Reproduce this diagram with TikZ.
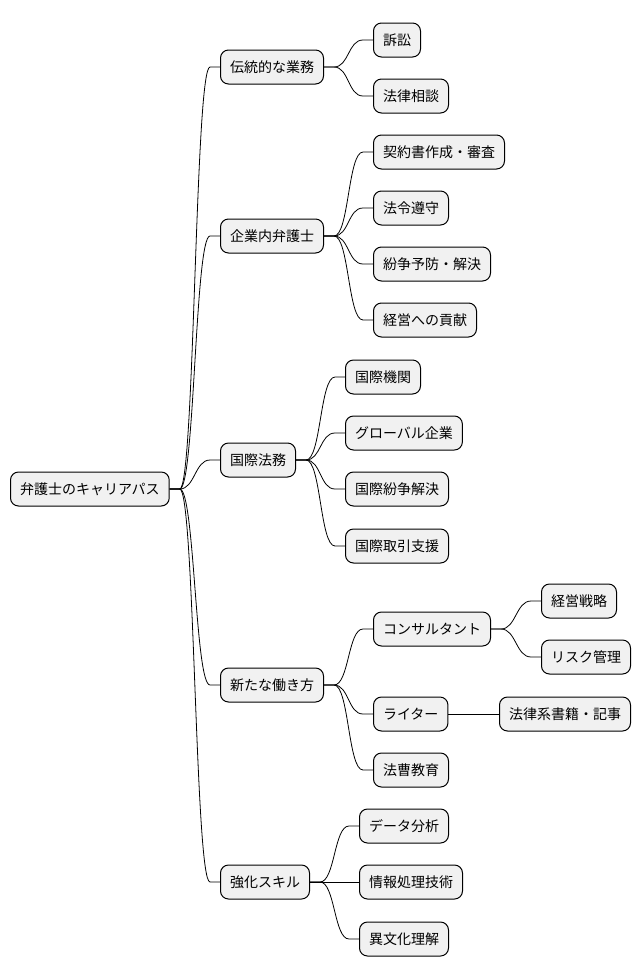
\documentclass[tikz,border=0pt]{standalone}
\usepackage{fontspec}
\setmainfont{Noto Sans CJK JP}
\begin{document}
\begin{tikzpicture}[x=1pt,y=-1pt,
  n/.style={draw=black,line width=1pt,fill={rgb,255:red,241;green,241;blue,241},rounded corners=8pt,
    anchor=west,minimum height=34pt,inner xsep=9.5pt,font=\fontsize{14}{16}\selectfont},
  e/.style={line width=0.8pt}]
\useasboundingbox (0,0) rectangle (642,978);
\node[n] (r) at (10,489) {弁護士のキャリアパス};
\node[n] (a) at (220,67) {伝統的な業務};
\node[n] (b) at (220,236) {企業内弁護士};
\node[n] (c) at (220,460) {国際法務};
\node[n] (d) at (220,685) {新たな働き方};
\node[n] (f) at (220,882) {強化スキル};
\node[n] (a1) at (373,40) {訴訟};
\node[n] (a2) at (373,96) {法律相談};
\node[n] (b1) at (373,152) {契約書作成・審査};
\node[n] (b2) at (373,208) {法令遵守};
\node[n] (b3) at (373,264) {紛争予防・解決};
\node[n] (b4) at (373,320) {経営への貢献};
\node[n] (c1) at (345,377) {国際機関};
\node[n] (c2) at (345,433) {グローバル企業};
\node[n] (c3) at (345,489) {国際紛争解決};
\node[n] (c4) at (345,546) {国際取引支援};
\node[n] (d1) at (373,629) {コンサルタント};
\node[n] (d2) at (373,714) {ライター};
\node[n] (d3) at (373,770) {法曹教育};
\node[n] (d11) at (541,601) {経営戦略};
\node[n] (d12) at (541,657) {リスク管理};
\node[n] (d21) at (499,714) {法律系書籍・記事};
\node[n] (f1) at (359,826) {データ分析};
\node[n] (f2) at (359,882) {情報処理技術};
\node[n] (f3) at (359,939) {異文化理解};
\foreach \p/\c in {r/a,r/b,r/c,r/d,r/f,a/a1,a/a2,b/b1,b/b2,b/b3,b/b4,c/c1,c/c2,c/c3,c/c4,d/d1,d/d2,d/d3,d1/d11,d1/d12,d2/d21,f/f1,f/f2,f/f3}
  \draw[e] (\p.east) -- ++(10,0) .. controls +(15,0) and +(-15,0) .. ([xshift=-10pt]\c.west) -- (\c.west);
\end{tikzpicture}
\end{document}
